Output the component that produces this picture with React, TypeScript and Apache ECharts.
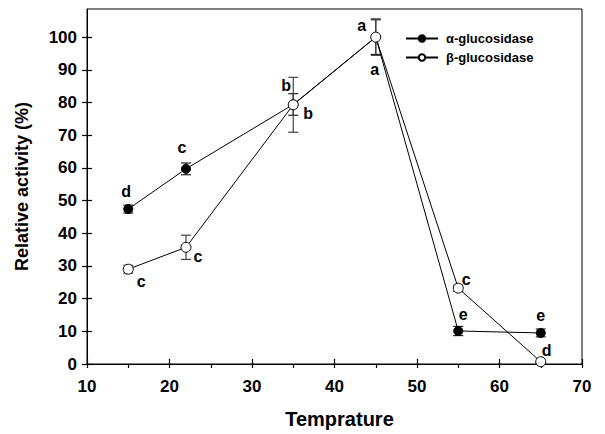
import React, { useEffect, useRef } from "react";
import * as echarts from "echarts";

const temps = [15, 22, 35, 45, 55, 65];
const alphaActivity = [47.4, 59.7, 79.4, 100, 10.1, 9.5];
const alphaError = [1.2, 1.8, 3.3, 5.3, 1.4, 1.2];
const alphaLetters = ["d", "c", "b", "a", "e", "e"];
const betaActivity = [29.0, 35.7, 79.3, 100, 23.2, 0.7];
const betaError = [1.2, 3.7, 8.4, 5.6, 1.0, 0];
const betaLetters = ["c", "c", "b", "a", "c", "d"];
const yTickValues = [0, 10, 20, 30, 40, 50, 60, 70, 80, 90, 100];
const seriesNames = ["\u03b1-glucosidase", "\u03b2-glucosidase"];

// layout: label offsets in px relative to the point
const alphaLabelOffsets = [[-2, -18], [-4, -21], [-7, -19], [-14, -12], [5, -16], [0, -17]];
const betaLabelOffsets = [[13, 12], [12, 9], [15, 9], [-1, 32], [8, -9], [6, -11]];

const FONT = "'Liberation Sans', Arial, sans-serif";

function errorSeries(vals: number[], errs: number[], color: string) {
  return {
    type: "custom",
    z: 1,
    silent: true,
    data: temps.map((t, i) => [t, vals[i] - errs[i], vals[i] + errs[i]]),
    renderItem: (params: any, api: any) => {
      const x = api.value(0);
      const lo = api.coord([x, api.value(1)]);
      const hi = api.coord([x, api.value(2)]);
      const w = 5;
      const style = { stroke: color, lineWidth: 1.2 };
      return {
        type: "group",
        children: [
          { type: "line", shape: { x1: lo[0], y1: lo[1], x2: hi[0], y2: hi[1] }, style },
          { type: "line", shape: { x1: lo[0] - w, y1: lo[1], x2: lo[0] + w, y2: lo[1] }, style },
          { type: "line", shape: { x1: hi[0] - w, y1: hi[1], x2: hi[0] + w, y2: hi[1] }, style },
        ],
      };
    },
  };
}

function letterSeries(vals: number[], letters: string[], offsets: number[][]) {
  return {
    type: "custom",
    z: 5,
    silent: true,
    data: temps.map((t, i) => [t, vals[i]]),
    renderItem: (params: any, api: any) => {
      const i = params.dataIndex;
      const p = api.coord([api.value(0), api.value(1)]);
      return {
        type: "text",
        x: p[0] + offsets[i][0],
        y: p[1] + offsets[i][1],
        style: {
          text: letters[i],
          fill: "#000",
          font: `bold 16px ${FONT}`,
          align: "center",
          verticalAlign: "middle",
        },
      };
    },
  };
}

export default function App() {
  const ref = useRef<HTMLDivElement>(null);
  useEffect(() => {
    if (!ref.current) return;
    const chart = echarts.init(ref.current, null, { renderer: "svg" });
    chart.setOption({
      animation: false,
      backgroundColor: "#fff",
      textStyle: { fontFamily: FONT },
      grid: {
        left: 87,
        right: 23,
        top: 9,
        bottom: 68,
        show: true,
        borderColor: "#000",
        borderWidth: 1,
        backgroundColor: "transparent",
      },
      legend: {
        orient: "vertical",
        left: 400,
        top: 27,
        itemWidth: 32,
        itemHeight: 8,
        itemGap: 6,
        data: seriesNames,
        textStyle: { fontWeight: "bold", fontSize: 13, color: "#000", fontFamily: FONT, padding: [0, 0, 0, 3] },
      },
      xAxis: [
        {
          type: "value",
          min: 10,
          max: 70,
          interval: 10,
          name: "Temprature",
          nameLocation: "middle",
          nameGap: 45,
          nameTextStyle: { fontWeight: "bold", fontSize: 20, color: "#000", fontFamily: FONT, padding: [0, 0, 0, 10] },
          axisLine: { show: true, lineStyle: { color: "#000", width: 1 } },
          axisTick: { show: true, length: 4, lineStyle: { color: "#000", width: 1.2 } },
          minorTick: { show: true, splitNumber: 2, length: 4, lineStyle: { color: "#000", width: 1.2 } },
          axisLabel: { fontWeight: "bold", fontSize: 17, color: "#000", margin: 14, fontFamily: FONT },
          splitLine: { show: false },
        },
        {
          type: "value",
          min: 10,
          max: 70,
          interval: 10,
          position: "bottom",
          axisLine: { show: false },
          axisTick: { show: true, inside: true, length: 5, lineStyle: { color: "#000", width: 1.2 } },
          axisLabel: { show: false },
          splitLine: { show: false },
        },
      ],
      yAxis: [
        {
          type: "value",
          min: 0,
          max: 108.6,
          position: "left",
          name: "Relative activity (%)",
          nameLocation: "middle",
          nameGap: 56,
          nameTextStyle: { fontWeight: "bold", fontSize: 18, color: "#000", fontFamily: FONT },
          axisLine: { show: true, lineStyle: { color: "#000", width: 1 } },
          axisTick: { show: true, length: 5, customValues: yTickValues, lineStyle: { color: "#000", width: 1.2 } },
          axisLabel: { fontWeight: "bold", fontSize: 17, color: "#000", margin: 10, customValues: yTickValues, fontFamily: FONT },
          splitLine: { show: false },
        },
        {
          type: "value",
          min: 0,
          max: 108.6,
          position: "left",
          offset: 0,
          axisLine: { show: false },
          axisTick: { show: true, inside: true, length: 5, customValues: yTickValues, lineStyle: { color: "#000", width: 1.2 } },
          axisLabel: { show: false, customValues: yTickValues },
          splitLine: { show: false },
        },
      ],
      series: [
        errorSeries(alphaActivity, alphaError, "#222"),
        errorSeries(betaActivity, betaError, "#444"),
        {
          name: seriesNames[0],
          type: "line",
          z: 3,
          data: temps.map((t, i) => [t, alphaActivity[i]]),
          symbol: "circle",
          symbolSize: 9,
          lineStyle: { color: "#000", width: 1 },
          itemStyle: { color: "#000", borderColor: "#000", borderWidth: 1 },
        },
        {
          name: seriesNames[1],
          type: "line",
          z: 4,
          data: temps.map((t, i) => [t, betaActivity[i]]),
          symbol: "circle",
          symbolSize: 10,
          showAllSymbol: true,
          lineStyle: { color: "#000", width: 1 },
          itemStyle: { color: "#fff", borderColor: "#000", borderWidth: 1 },
        },
        letterSeries(alphaActivity, alphaLetters, alphaLabelOffsets),
        letterSeries(betaActivity, betaLetters, betaLabelOffsets),
      ],
    });
    return () => chart.dispose();
  }, []);
  return <div ref={ref} style={{ width: 605, height: 434, position: "absolute", left: 0, top: 0 }} />;
}
